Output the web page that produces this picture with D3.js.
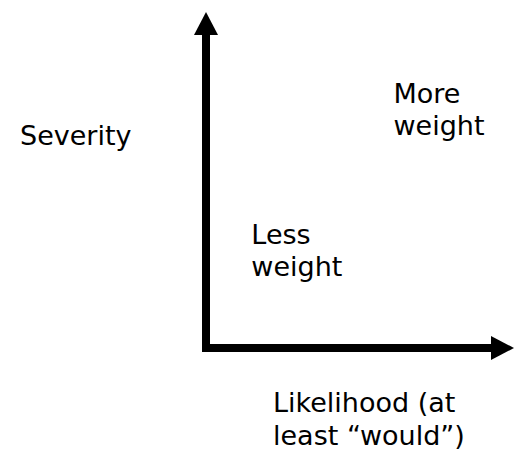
<!DOCTYPE html>
<html>
<head>
<meta charset="utf-8">
<script src="https://cdn.jsdelivr.net/npm/d3@7"></script>
<style>
  body { margin: 0; background: #fff; }
  svg { display: block; }
</style>
</head>
<body>
<div id="chart"></div>
<script>
// Severity vs likelihood diagram

// Axis titles and quadrant labels (positions in 0..1 likelihood/severity units)
const axisTitles = ['Likelihood (at|least \u201cwould\u201d)', 'Severity'];
const quadrantLabels = ['Less|weight', 'More|weight'];
const quadrantLikelihood = [0.15, 0.61];
const quadrantSeverity = [0.31, 0.73];

function createChart() {
    const width = 514, height = 451;
    const svg = d3.select('#chart').append('svg')
        .attr('width', width)
        .attr('height', height);

    const x = d3.scaleLinear().domain([0, 1]).range([205, 514]);
    const y = d3.scaleLinear().domain([0, 1]).range([348, 12]);

    const stroke = 8, headLen = 22, headW = 24;
    const x0 = x(0) + 1, y0 = y(0);

    // Vertical arrow (severity)
    svg.append('line')
        .attr('x1', x0).attr('y1', y0 + stroke / 2)
        .attr('x2', x0).attr('y2', y(1) + headLen)
        .attr('stroke', '#000').attr('stroke-width', stroke);
    svg.append('path')
        .attr('d', `M${x0 - headW / 2},${y(1) + headLen + 1}L${x0},${y(1)}L${x0 + headW / 2},${y(1) + headLen + 1}Z`)
        .attr('fill', '#000');

    // Horizontal arrow (likelihood)
    svg.append('line')
        .attr('x1', x0 - 1).attr('y1', y0)
        .attr('x2', x(1) - headLen).attr('y2', y0)
        .attr('stroke', '#000').attr('stroke-width', stroke);
    svg.append('path')
        .attr('d', `M${x(1) - headLen - 1},${y0 - headW / 2}L${x(1)},${y0}L${x(1) - headLen - 1},${y0 + headW / 2}Z`)
        .attr('fill', '#000');

    const font = 'Verdana, "DejaVu Sans", sans-serif';

    function multiline(str, px, py, lh) {
        const t = svg.append('text')
            .attr('x', px).attr('y', py)
            .style('font-family', font)
            .style('font-size', '27px')
            .attr('fill', '#000');
        str.split('|').forEach((s, i) => {
            t.append('tspan').attr('x', px).attr('dy', i ? lh : 0).text(s);
        });
    }

    // Quadrant labels
    quadrantLabels.forEach((lab, i) => {
        multiline(lab, x(quadrantLikelihood[i]), y(quadrantSeverity[i]), 32);
    });

    // Axis titles
    multiline(axisTitles[0], 273, 412, 33);
    multiline(axisTitles[1], 20, 145, 32);
}

createChart();
</script>
</body>
</html>
